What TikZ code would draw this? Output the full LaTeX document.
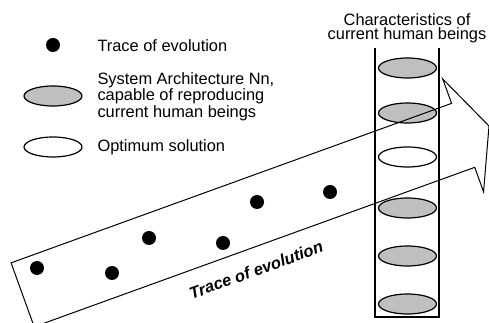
\documentclass[tikz,border=0pt]{standalone}
\usepackage{fontspec}
\setmainfont{Liberation Sans}
\usetikzlibrary{shapes.geometric}
\tikzset{
  trace/.style={
    % The shape:
    circle,
    % The size:
    minimum size=14pt,inner sep=0pt,
    % The filling:
    fill=black},
  architecture/.style={
    % The shape:
    ellipse,
    % The size:
    minimum width=58pt,minimum height=20pt,
    % The border:
    line width=1.2pt,draw=black,
    % The filling:
    fill=black!25},
  optimum/.style={
    architecture,
    fill=white},
  caption/.style={
    inner sep=0pt,
    font=\fontsize{16.4}{13.3}\selectfont}
}

\begin{document}
\begin{tikzpicture}[x=1pt,y=1pt,line width=1pt,
                    column/.style={line width=1.3pt},
                    slogan/.style={caption,font=\fontsize{16.4}{13.3}\selectfont\bfseries\itshape}]
  \useasboundingbox (0,0) rectangle (489,323);

  % legend
  \node (key dot)  [trace]        at (53,278) {};
  \node (key arch) [architecture] at (53,227) {};
  \node (key opt)  [optimum]      at (53,176) {};
  \node (txt dot)  [caption,anchor=base west] at (97,271) {Trace of evolution};
  \node (txt arch) [caption,anchor=west,align=left] at (97,226.5)
    {System Architecture Nn,\\capable of reproducing\\current human beings};
  \node (txt opt)  [caption,anchor=base west] at (97,171) {Optimum solution};

  % column of characteristics
  \draw[column] (375,275) -- (375,6) -- (439,6) -- (439,275);
  \node (title) [caption,anchor=south,align=center] at (407,280)
    {Characteristics of\\current human beings};
  \foreach \y/\f [count=\i] in {255/black!25,210/black!25,166/white,115/black!25,67/black!25,19/black!25}
    \node (char\i) [architecture,fill=\f] at (407.5,\y) {};

  % trace of evolution
  \foreach \x/\y [count=\i] in {37/55,112/50,149/85,223/80,257/121,330/131}
    \node (dot\i) [trace] at (\x,\y) {};

  % big arrow
  \begin{scope}[shift={(489,197)},rotate=19.9]
    \draw (-496,34) -- (-27.5,34) -- (-27.5,60) -- (0,0) -- (-27.5,-60)
          -- (-27.5,-34) -- (-496,-34) -- cycle;
    \node (arrow label) [slogan,transform shape] at (-268,-56) {Trace of evolution};
  \end{scope}
\end{tikzpicture}
\end{document}
